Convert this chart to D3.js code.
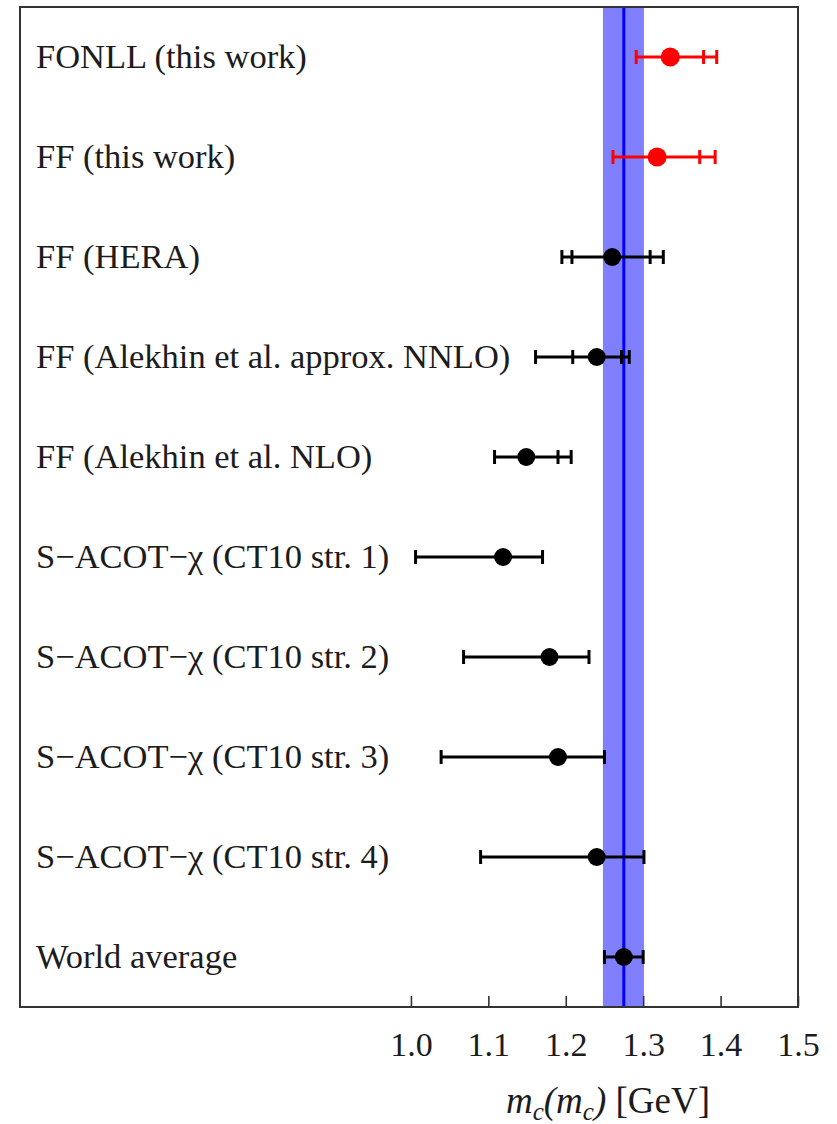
<!DOCTYPE html>
<html>
<head>
<meta charset="utf-8">
<script src="https://cdn.jsdelivr.net/npm/d3@7"></script>
<style>
  html, body { margin: 0; padding: 0; background: #fff; }
  svg { display: block; }
</style>
</head>
<body>
<svg id="chart" width="837" height="1124"></svg>
<script>
// Charm mass determinations, m_c(m_c) in GeV
const labels = [
  "FONLL (this work)",
  "FF (this work)",
  "FF (HERA)",
  "FF (Alekhin et al. approx. NNLO)",
  "FF (Alekhin et al. NLO)",
  "S\u2212ACOT\u2212\u03c7 (CT10 str. 1)",
  "S\u2212ACOT\u2212\u03c7 (CT10 str. 2)",
  "S\u2212ACOT\u2212\u03c7 (CT10 str. 3)",
  "S\u2212ACOT\u2212\u03c7 (CT10 str. 4)",
  "World average"
];
const central   = [1.335, 1.318, 1.260, 1.240, 1.149, 1.119, 1.179, 1.190, 1.240, 1.275];
const lowOuter  = [1.291, 1.261, 1.195, 1.161, 1.108, 1.006, 1.068, 1.039, 1.090, 1.250];
const lowInner  = [null,  null,  1.208, 1.209, null,  null,  null,  null,  null,  null ];
const highInner = [1.378, 1.373, 1.309, 1.272, 1.190, null,  null,  null,  null,  null ];
const highOuter = [1.395, 1.393, 1.326, 1.282, 1.207, 1.170, 1.230, 1.250, 1.301, 1.300];
const isThisWork = [true, true, false, false, false, false, false, false, false, false];

// World-average band
const worldCentral = 1.275;
const worldBandLow = 1.248;
const worldBandHigh = 1.301;

const tickValues = [1.0, 1.1, 1.2, 1.3, 1.4, 1.5];
const axisTitle = { m: "m", sub: "c" };

const rows = labels.map((label, i) => ({
  label,
  c: central[i],
  lo: lowOuter[i],
  loIn: lowInner[i],
  hiIn: highInner[i],
  hi: highOuter[i],
  red: isThisWork[i]
}));

const frame = { left: 20, right: 798, top: 7, bottom: 1007 };
const svg = d3.select("#chart");

const x = d3.scaleLinear().domain([0.495, 1.5]).range([frame.left, frame.right]);
const y = d3.scaleBand().domain(labels).range([frame.top, frame.bottom]);
const cy = d => y(d.label) + y.bandwidth() / 2;

const serif = "'Liberation Serif', 'Times New Roman', serif";
const textColor = "#1c1c1c";

// World-average band and central line
svg.append("rect")
  .attr("x", x(worldBandLow))
  .attr("y", frame.top)
  .attr("width", x(worldBandHigh) - x(worldBandLow))
  .attr("height", frame.bottom - frame.top)
  .attr("fill", "#8080ff");
svg.append("line")
  .attr("x1", x(worldCentral)).attr("x2", x(worldCentral))
  .attr("y1", frame.top).attr("y2", frame.bottom)
  .attr("stroke", "#0000ff").attr("stroke-width", 3);

// Bottom axis: inward ticks, labels below
const axis = d3.axisBottom(x).tickValues(tickValues).tickSize(-10).tickPadding(0)
  .tickFormat(d3.format(".1f"));
const gAxis = svg.append("g").attr("transform", `translate(0,${frame.bottom - 1})`).call(axis);
gAxis.select(".domain").remove();
gAxis.selectAll(".tick line").attr("stroke", "#333").attr("stroke-width", 1.6);
gAxis.selectAll(".tick text")
  .attr("y", 50)
  .attr("dy", null)
  .attr("fill", textColor)
  .style("font-family", serif)
  .style("font-size", "34px");

// Frame
svg.append("rect")
  .attr("x", frame.left).attr("y", frame.top)
  .attr("width", frame.right - frame.left).attr("height", frame.bottom - frame.top)
  .attr("fill", "none").attr("stroke", "#333").attr("stroke-width", 2);

// Row labels
svg.append("g").selectAll("text").data(rows).join("text")
  .attr("x", 36)
  .attr("y", d => cy(d) + 11)
  .attr("fill", textColor)
  .style("font-family", serif)
  .style("font-size", "34.5px")
  .text(d => d.label);

// Error bars and points
const capH = 7;
const gPts = svg.append("g");
rows.forEach(d => {
  const col = d.red ? "#ff0000" : "#000000";
  const g = gPts.append("g");
  const yy = cy(d);
  g.append("line")
    .attr("x1", x(d.lo)).attr("x2", x(d.hi))
    .attr("y1", yy).attr("y2", yy)
    .attr("stroke", col).attr("stroke-width", 3);
  [d.lo, d.loIn, d.hiIn, d.hi].filter(v => v != null).forEach(v => {
    g.append("line")
      .attr("x1", x(v)).attr("x2", x(v))
      .attr("y1", yy - capH).attr("y2", yy + capH)
      .attr("stroke", col).attr("stroke-width", 3);
  });
  g.append("circle")
    .attr("cx", x(d.c)).attr("cy", yy)
    .attr("r", d.red ? 9.5 : 9)
    .attr("fill", col);
});

// Axis title: m_c(m_c) [GeV]
const title = svg.append("text")
  .attr("x", 608).attr("y", 1113)
  .attr("text-anchor", "middle")
  .attr("fill", textColor)
  .style("font-family", serif)
  .style("font-size", "37px");
title.append("tspan").style("font-style", "italic").text(axisTitle.m);
title.append("tspan").style("font-style", "italic").style("font-size", "25px").attr("dy", 7).text(axisTitle.sub);
title.append("tspan").style("font-style", "italic").attr("dy", -7).text("(" + axisTitle.m);
title.append("tspan").style("font-style", "italic").style("font-size", "25px").attr("dy", 7).text(axisTitle.sub);
title.append("tspan").style("font-style", "italic").attr("dy", -7).text(")");
title.append("tspan").text(" [GeV]");
</script>
</body>
</html>
